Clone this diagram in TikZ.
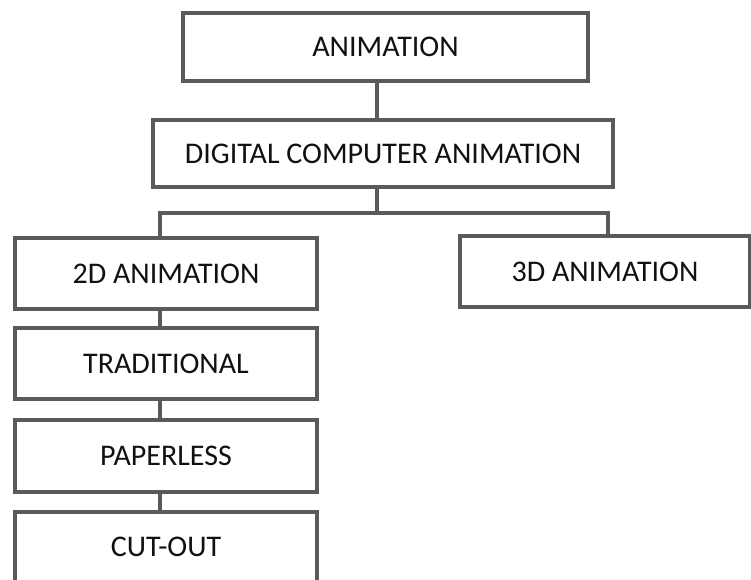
\documentclass[tikz,border=0pt]{standalone}
\usepackage{fontspec}
\setmainfont{Carlito}
\definecolor{edge}{HTML}{5A5A5A}
\definecolor{ink}{HTML}{111111}
\begin{document}
\begin{tikzpicture}[x=1pt,y=-1pt,
  box/.style={draw=edge,line width=3.5pt,rectangle,inner sep=0pt,text=ink,
    font=\fontsize{30}{32}\selectfont},
  link/.style={draw=edge,line width=3.5pt}]
\useasboundingbox[fill=white] (0,0) rectangle (751,579);
\node[box,minimum width=405pt,minimum height=68pt] (anim) at (385.5,47) {ANIMATION};
\node[box,minimum width=460pt,minimum height=67pt] (dca) at (383,153.5) {DIGITAL COMPUTER ANIMATION};
\node[box,minimum width=302pt,minimum height=71pt] (d2) at (166,273.5) {2D ANIMATION};
\node[box,minimum width=290pt,minimum height=71pt] (d3) at (605,271.5) {3D ANIMATION};
\node[box,minimum width=302pt,minimum height=71pt] (trad) at (166,363.5) {TRADITIONAL};
\node[box,minimum width=302pt,minimum height=72pt] (paper) at (166,456) {PAPERLESS};
\node[box,minimum width=302pt,minimum height=70pt] (cut) at (166,547) {CUT-OUT};
\coordinate (mid) at (377,213);
\coordinate (left) at (160,213);
\coordinate (right) at (608,213);
\draw[link] (anim.south -| mid) -- (dca.north -| mid);
\draw[link] (dca.south -| mid) -- (mid);
\draw[link,line join=miter] (d2.north -| left) -- (left) -- (right) -- (d3.north -| right);
\draw[link] (d2.south -| left) -- (trad.north -| left);
\draw[link] (trad.south -| left) -- (paper.north -| left);
\draw[link] (paper.south -| left) -- (cut.north -| left);
\end{tikzpicture}
\end{document}
